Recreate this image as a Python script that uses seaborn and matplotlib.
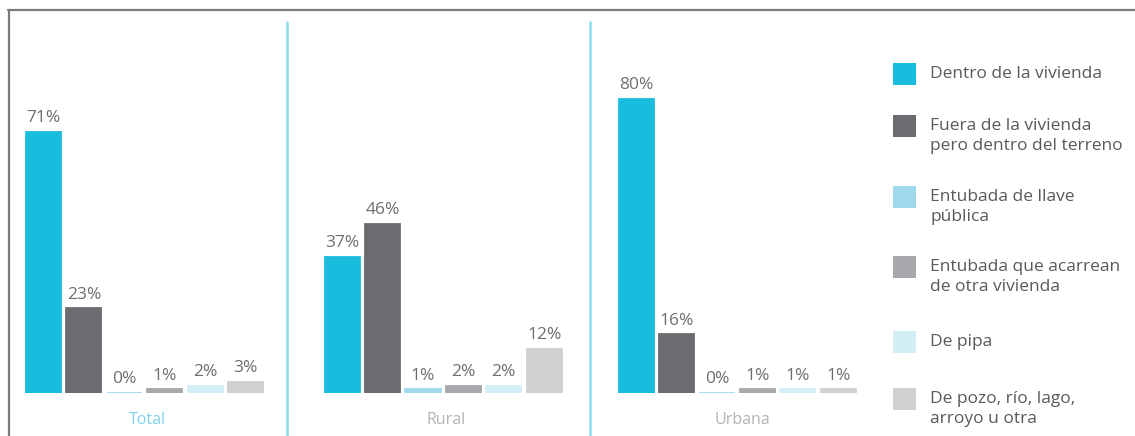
import matplotlib
matplotlib.use("Agg")
import matplotlib.pyplot as plt
import seaborn as sns
import pandas as pd
from matplotlib.patches import Rectangle
from matplotlib.lines import Line2D

categories = [
    "Dentro de la vivienda",
    "Fuera de la vivienda\npero dentro del terreno",
    "Entubada de llave\npública",
    "Entubada que acarrean\nde otra vivienda",
    "De pipa",
    "De pozo, río, lago,\narroyo u otra",
]
regions = ["Total", "Rural", "Urbana"]
total_vals = [71, 23, 0, 1, 2, 3]
rural_vals = [37, 46, 1, 2, 2, 12]
urbana_vals = [80, 16, 0, 1, 1, 1]
colors = ["#1abcdd", "#6b6c70", "#9fd9ed", "#a7a8ab", "#d4eef6", "#cfd0d2"]

sns.set_theme(style="white")
plt.rcParams["font.family"] = ["Open Sans", "DejaVu Sans"]

W, H = 1135, 436
fig = plt.figure(figsize=(W / 100, H / 100), dpi=100)

region_vals = [total_vals, rural_vals, urbana_vals]
axes_left_px = [23.3, 322.0, 616.0]
axes_w_px = 242.4
base_px = 393
top_px = 25
label_colors = ["#7fd3ea", "#b3b3b3", "#b3b3b3"]
label_x_px = [147, 446, 742]

for vals, lpx, reg, lc, lx in zip(region_vals, axes_left_px, regions, label_colors, label_x_px):
    ax = fig.add_axes([lpx / W, (H - base_px) / H, axes_w_px / W, (base_px - top_px) / H])
    df = pd.DataFrame({"cat": categories, "val": vals})
    sns.barplot(data=df, x="cat", y="val", hue="cat", palette=colors,
                order=categories, hue_order=categories, legend=False,
                width=0.87, ax=ax, saturation=1)
    for p, c in zip(ax.patches, colors):
        p.set_edgecolor(c)
        p.set_linewidth(1.3)
    ax.set_ylim(0, 100)
    ax.set_xlim(-0.5, 5.5)
    ax.axis("off")
    for i, v in enumerate(vals):
        ax.annotate(f"{v}%", (i, v), xytext=(0, 4), textcoords="offset points",
                    ha="center", va="bottom", fontsize=12.5, color="#6d6e71")
    fig.text(lx / W, 1 - 420 / H, reg, ha="center", va="center",
             fontsize=11.5, color=lc)

# frame lines
fig.add_artist(Line2D([8 / W, 1.0], [1 - 10.5 / H] * 2, transform=fig.transFigure,
                      color="#7a7a7a", lw=1.6))
fig.add_artist(Line2D([9 / W] * 2, [1 - 10 / H, 0], transform=fig.transFigure,
                      color="#7a7a7a", lw=1.6))
for sx in [287, 590]:
    fig.add_artist(Line2D([sx / W] * 2, [1 - 22 / H, 0], transform=fig.transFigure,
                          color="#8ddcf0", lw=1.8))

# legend
sq_tops = [63, 115, 186, 256, 331, 388]
for top, c, lab in zip(sq_tops, colors, categories):
    fig.add_artist(Rectangle((893 / W, 1 - (top + 22) / H), 23 / W, 22 / H,
                             transform=fig.transFigure, facecolor=c, edgecolor="none"))
    fig.text(930 / W, 1 - (top + 3) / H, lab, ha="left", va="top",
             fontsize=12.5, color="#58595b", linespacing=1.3)

fig.savefig("out.png", dpi=100)
